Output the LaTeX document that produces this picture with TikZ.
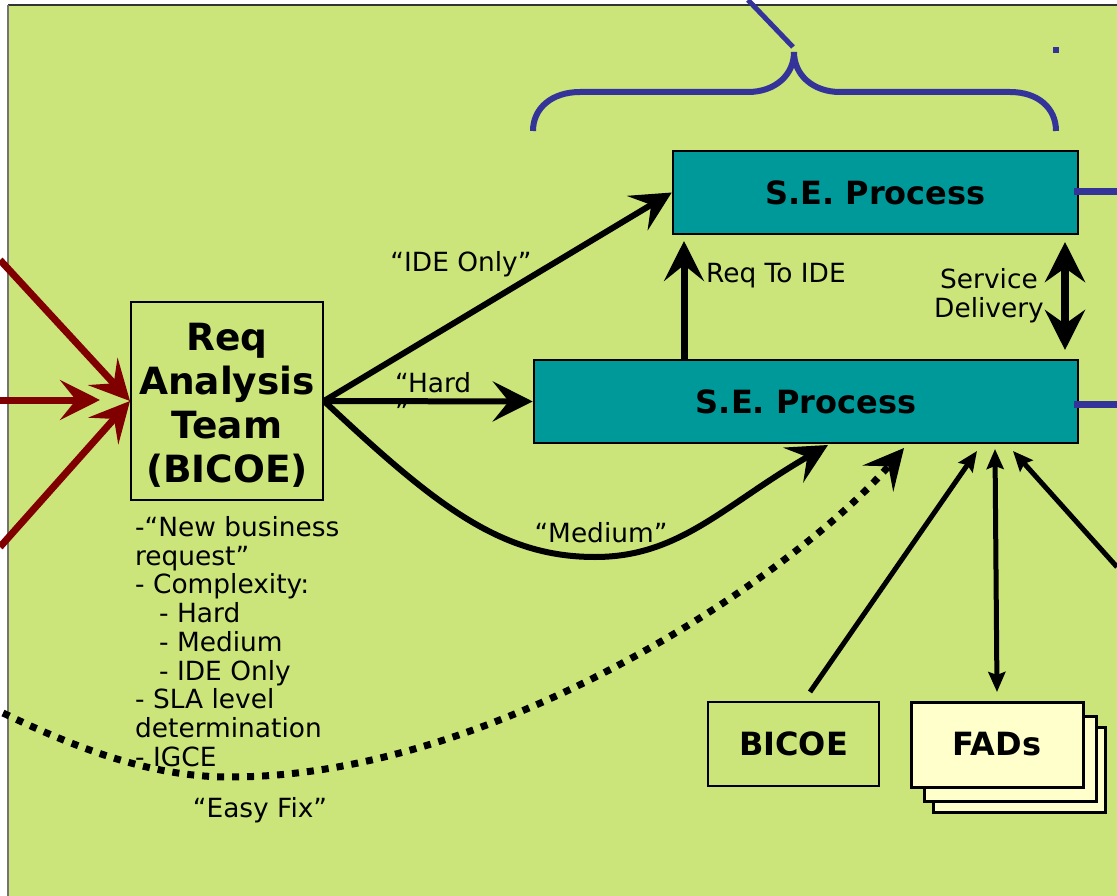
\documentclass[tikz,border=0pt]{standalone}
\usepackage{fontspec}
\setmainfont{DejaVu Sans}
\usetikzlibrary{arrows.meta}
\definecolor{slidebg}{RGB}{203,229,122}
\definecolor{seteal}{RGB}{0,153,153}
\definecolor{reqred}{RGB}{128,0,0}
\definecolor{braceblue}{RGB}{51,51,153}
\definecolor{docyellow}{RGB}{255,255,204}
\tikzset{
  smallhead/.tip={Stealth[length=20pt,width=17pt,inset=3pt]},
  bigtip/.tip={Stealth[length=40pt,width=40pt,inset=16pt]},
  svctip/.tip={Stealth[length=40pt,width=40pt,inset=14pt]},
  box/.style={draw=black, line width=2pt, inner sep=0pt},
  boldtext/.style={font=\fontsize{32}{36}\selectfont\bfseries},
  procbox/.style={box, fill=seteal, line width=2.5pt, boldtext},
  docbox/.style={box, fill=docyellow, line width=3pt, minimum width=172pt, minimum height=85pt},
  label/.style={inner sep=0pt, font=\fontsize{26.4}{28.75}\selectfont},
  bighead/.style={-{bigtip}},
  flowarrow/.style={draw=black, line width=6pt, bighead},
  redarrow/.style={draw=reqred, line width=7pt, -{bigtip}},
  smallarrow/.style={draw=black, line width=5pt, -{smallhead}},
  bluebar/.style={draw=braceblue, line width=7pt},
}
\begin{document}
\begin{tikzpicture}[x=1pt, y=-1pt]
\useasboundingbox (0,0) rectangle (1117,896);
% slide background
\fill[white] (0,0) rectangle (1117,896);
\fill[slidebg] (8,5) rectangle (1117,896);
\draw[line width=1.5pt, black!80] (8,5) -- (1117,5);
\draw[line width=2pt, black!55] (8,5) -- (8,896);

% boxes
\node[box, minimum width=192pt, minimum height=198pt] (req) at (227,401) {};
\node[inner sep=0pt, align=center, font=\fontsize{37.5}{44}\selectfont\bfseries] (reqText) at (227,405)
      {Req\\Analysis\\Team\\(BICOE)};
\node[procbox, minimum width=405pt, minimum height=83pt] (seTop) at (875.5,192.5) {S.E. Process};
\node[procbox, minimum width=544pt, minimum height=83pt] (seBot) at (806,401.5) {S.E. Process};
\node[box, minimum width=171pt, minimum height=84pt, boldtext] (bicoe) at (793.5,744) {BICOE};
\node[docbox] (fadsC) at (1019.5,769.5) {};
\node[docbox] (fadsB) at (1010.5,758.5) {};
\node[docbox, boldtext] (fads) at (997,744.5) {FADs};

% incoming requests
\coordinate (inA) at (0,260);
\coordinate (inB) at (0,400);
\coordinate (inBtip) at (100,400);
\coordinate (inC) at (0,547);
\draw[redarrow] (inA) -- (req.west);
\draw[redarrow] (inB) -- (inBtip);
\draw[redarrow] (inC) -- (req.west);

% routes out of the analysis team
\coordinate (medTip) at (828,445);
\draw[flowarrow] (req.east) -- (seTop.west);
\draw[flowarrow] (req.east) -- (seBot.west);
\draw[flowarrow] (req.east) .. controls (435,505) and (500,557) .. (595,557)
                 .. controls (680,557) and (724,505) .. (medTip);
\node[label] (lblIDE) at (461,264) {“IDE Only”};
\node[label, align=left, anchor=north west] (lblHard) at (395,372) {“Hard\\”};
\node[label] (lblMed) at (601,533) {“Medium”};

% between the two processes
\coordinate (reqIDEtip) at (684,241);
\draw[draw=black, line width=7pt, bighead] (seBot.north -| reqIDEtip) -- (reqIDEtip);
\node[label, anchor=west] (lblReqIDE) at (706,276) {Req To IDE};
\coordinate (svcTop) at (1065,242);
\coordinate (svcBot) at (1065,350);
\draw[draw=black, line width=8pt, {svctip}-{svctip}] (svcTop) -- (svcBot);
\node[label, align=center] (lblSvc) at (989,296) {Service\\Delivery};

% easy fix path
\coordinate (easyStart) at (3,713);
\coordinate (easyTip) at (904,448);
\draw[draw=black, line width=7pt, dash pattern=on 7pt off 8pt, bighead]
  (easyStart) .. controls (90,755) and (160,777) .. (230,777)
  .. controls (500,777) and (800,570) .. (easyTip);
\node[label] (lblEasy) at (260,810) {“Easy Fix”};

% notes under the analysis team
\node[label, align=left, anchor=north west] (notes) at (135,516)
  {-“New business\\request”\\- Complexity:\\\hspace*{24pt}- Hard\\\hspace*{24pt}- Medium\\\hspace*{24pt}- IDE Only\\- SLA level\\determination\\- IGCE};

% inputs at the bottom
\coordinate (bicoeOut) at (810,692);
\coordinate (bicoeTip) at (977,451);
\draw[smallarrow] (bicoeOut) -- (bicoeTip);
\coordinate (fadsTop) at (995,449);
\coordinate (fadsBot) at (997,692);
\draw[draw=black, line width=5pt, {smallhead}-{smallhead}] (fadsTop) -- (fadsBot);
\coordinate (sideIn) at (1117,567);
\coordinate (sideTip) at (1013,451);
\draw[smallarrow] (sideIn) -- (sideTip);

% links off to the right
\coordinate (edgeTop) at (1117,192);
\coordinate (edgeBot) at (1117,404);
\draw[bluebar] ([xshift=-5pt]edgeTop -| seTop.east) -- (edgeTop);
\draw[bluebar] ([xshift=-5pt]edgeBot -| seBot.east) -- (edgeBot);

% brace over the processes
\draw[draw=braceblue, line width=6pt]
  (533,131) .. controls (533,108) and (552,92) .. (580,92) -- (748,92)
  .. controls (775,92) and (794,75) .. (794,52);
\draw[draw=braceblue, line width=6pt]
  (794,52) .. controls (794,75) and (813,92) .. (840,92) -- (1010,92)
  .. controls (1038,92) and (1056,108) .. (1056,131);
\coordinate (braceLineTop) at (748,0);
\coordinate (braceLineEnd) at (793,47);
\draw[draw=braceblue, line width=5pt] (braceLineTop) -- (braceLineEnd);
\fill[braceblue] (1053,47) rectangle (1059,53);
\end{tikzpicture}
\end{document}
